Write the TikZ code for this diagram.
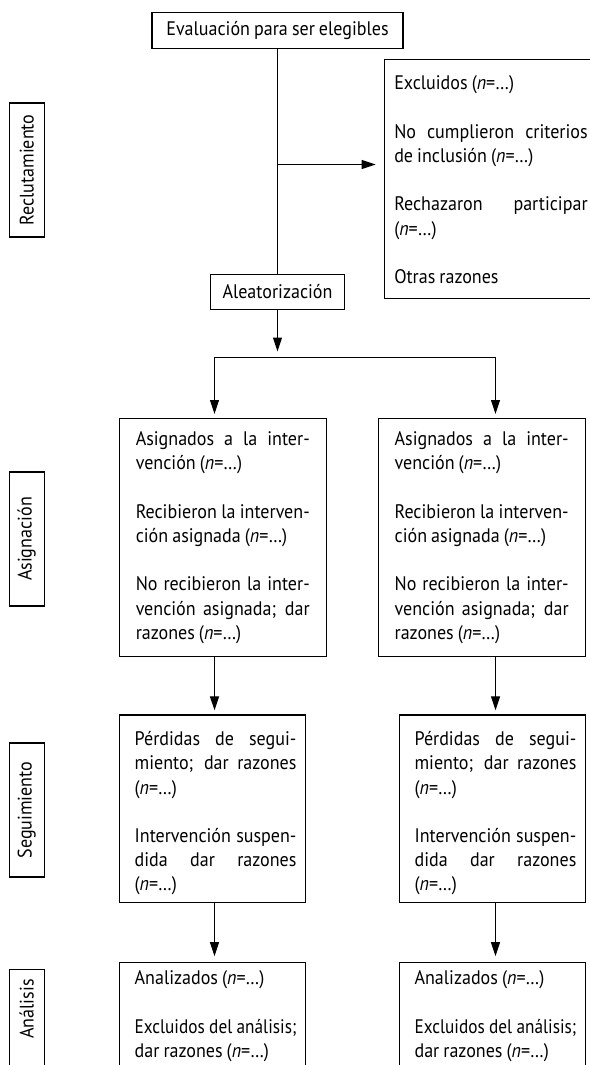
\documentclass[tikz,border=0pt]{standalone}
\usepackage{fontspec}
\setmainfont[FakeStretch=0.92,WordSpace={0.85,1.5,1.6}]{PT Sans}
\usetikzlibrary{arrows.meta}
\tikzstyle{titulo}=[draw, line width=0.65pt, inner sep=0pt, minimum height=17.8pt,
font=\fontsize{9.8}{12.1}\selectfont]
\tikzstyle{etapa}=[draw, line width=0.65pt, rotate=90, minimum width=67pt,
minimum height=17.5pt, inner sep=0pt, font=\fontsize{9.8}{12.1}\selectfont]
\tikzstyle{bloque}=[draw, line width=0.65pt, anchor=north west, inner ysep=0pt,
align=justify, font=\fontsize{9.8}{12.1}\selectfont,
execute at begin node={\baselineskip=12.1pt\parskip=12.1pt\hyphenpenalty=10000}]
\tikzstyle{ancho}=[bloque, text width=87pt, inner xsep=8.25pt, text height=13.75pt,
text depth=105.5pt]
\tikzstyle{estrecho}=[bloque, text width=84.2pt, inner xsep=4.4pt,
execute at begin node={\baselineskip=12.1pt\parskip=12.1pt\hyphenpenalty=10000\leftskip=3.3pt}]

\begin{document}
\begin{tikzpicture}[x=0.5pt,y=-0.5pt,>={Triangle[length=7pt,width=4.5pt]},line width=0.55pt]
\useasboundingbox (0,0) rectangle (589,1065);
\node[titulo, minimum width=125.5pt](eval) at (277.5,30.5) {Evaluación para ser elegibles};
\node[titulo, minimum width=67pt](aleat) at (277.5,292) {Aleatorización};
\node[bloque, text width=100pt, inner xsep=5pt, text height=15.3pt, text depth=104.1pt,
execute at begin node={\baselineskip=12.1pt\parskip=12.1pt\hyphenpenalty=10000\rightskip=3.3pt}](excl)
at (383.6,58.7) {Excluidos (\textit{n}=…)\par No cumplieron criterios\linebreak de inclusión
(\textit{n}=…)\par Rechazaron participar\linebreak (\textit{n}=…)\par Otras razones};
\node[ancho](asig1) at (118.6,417.5) {Asignados a la inter-\linebreak vención (\textit{n}=…)\par
Recibieron la interven-\linebreak ción asignada (\textit{n}=…)\par No recibieron la
inter-\linebreak vención asignada; dar\linebreak razones (\textit{n}=…)};
\node[ancho](asig2) at (377.5,417.5) {Asignados a la inter-\linebreak vención (\textit{n}=…)\par
Recibieron la interven-\linebreak ción asignada (\textit{n}=…)\par No recibieron la
inter-\linebreak vención asignada; dar\linebreak razones (\textit{n}=…)};
\node[estrecho, text height=15.35pt, text depth=78.5pt](seg1) at (118.6,714.3) {Pérdidas de
segui-\linebreak miento; dar razones\linebreak (\textit{n}=…)\par Intervención
suspen-\linebreak dida dar razones\linebreak (\textit{n}=…)};
\node[estrecho, text height=15.35pt, text depth=78.5pt](seg2) at (398.5,714.3) {Pérdidas de
segui-\linebreak miento; dar razones\linebreak (\textit{n}=…)\par Intervención
suspen-\linebreak dida dar razones\linebreak (\textit{n}=…)};
\node[estrecho, text height=11.15pt, text depth=60pt](anal1) at (118.6,961.7) {Analizados
(\textit{n}=…)\par {\addfontfeature{FakeStretch=0.88}Excluidos~del~análisis;}\linebreak dar
razones (\textit{n}=…)};
\node[estrecho, text height=11.15pt, text depth=60pt](anal2) at (398.5,961.7) {Analizados
(\textit{n}=…)\par {\addfontfeature{FakeStretch=0.88}Excluidos~del~análisis;}\linebreak dar
razones (\textit{n}=…)};
\node[etapa](fase1) at (26.7,170) {Reclutamiento};
\node[etapa](fase2) at (26.7,539) {Asignación};
\node[etapa](fase3) at (26.7,810) {Seguimiento};
\node[etapa, text width=57pt, inner xsep=5pt, align=right](fase4) at (26.7,1036.3) {Análisis};
\coordinate (rama) at (277.5,164.5);
\coordinate (bar) at (277.5,357.5);
\coordinate (col1) at (214.5,0);
\coordinate (col2) at (495.5,0);
\draw (eval) -- (aleat);
\draw[->,shorten >=4pt] (rama) -- (rama -| excl.west);
\draw[->,shorten >=3pt] (aleat) -- (bar);
\draw[->,shorten >=1.75pt] (bar) -| (asig1.north -| col1);
\draw[->,shorten >=1.75pt] (bar) -| (asig2.north -| col2);
\draw[->,shorten >=2pt] (asig1.south -| col1) -- (seg1.north -| col1);
\draw[->,shorten >=2pt] (asig2.south -| col2) -- (seg2.north -| col2);
\draw[->,shorten >=2.8pt] (seg1.south -| col1) -- (anal1.north -| col1);
\draw[->,shorten >=2.8pt] (seg2.south -| col2) -- (anal2.north -| col2);
\end{tikzpicture}
\end{document}
